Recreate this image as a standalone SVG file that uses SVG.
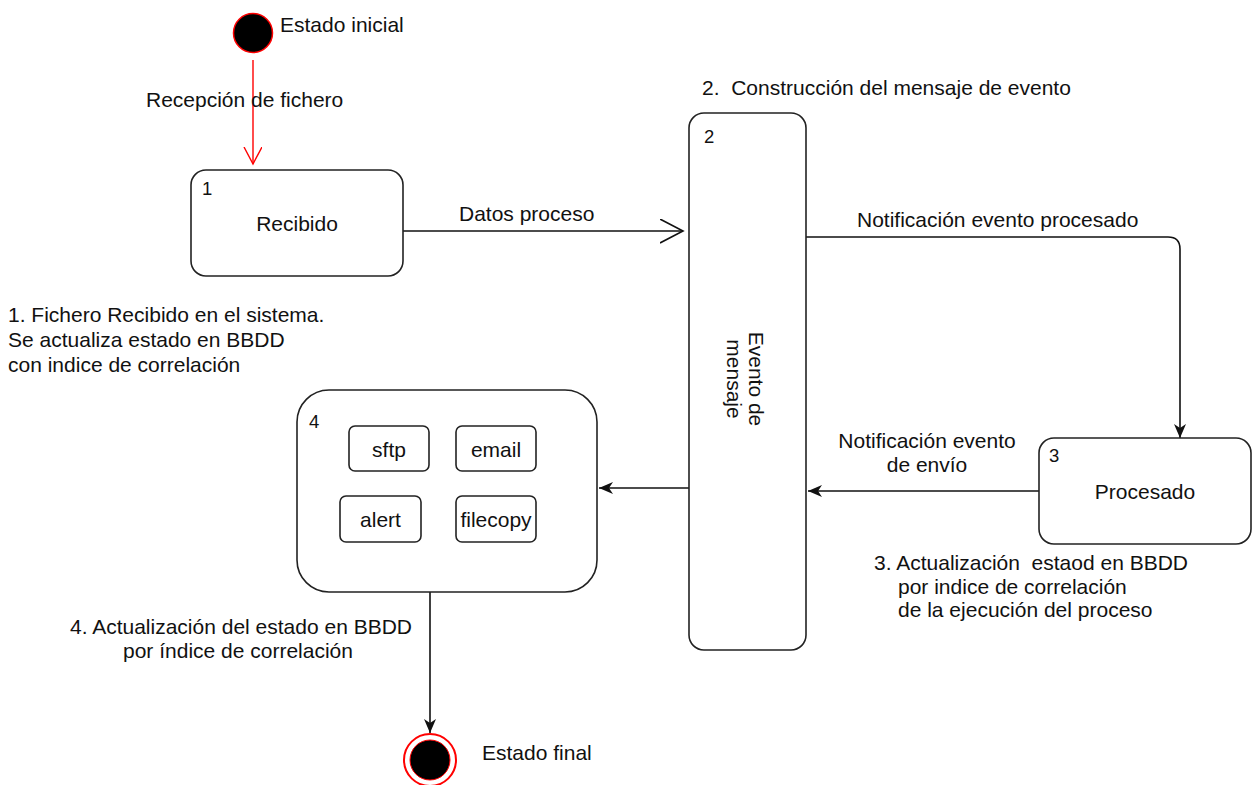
<svg xmlns="http://www.w3.org/2000/svg" width="1252" height="785" viewBox="0 0 1252 785">
  <style>
    text { font-family: "Liberation Sans", Arial, sans-serif; font-size: 21px; fill: #111; }
    .num { font-size: 18.5px; }
    .mid { text-anchor: middle; }
    .pre { white-space: pre; }
    .state { fill: #fff; stroke: #222; stroke-width: 1.6; }
    .item { fill: #fff; stroke: #222; stroke-width: 1.6; }
    .edge { fill: none; stroke: #111; stroke-width: 1.6; }
    .edge-red { fill: none; stroke: #f00; stroke-width: 1.4; }
  </style>
  <defs>
    <marker id="arrow-filled" markerUnits="userSpaceOnUse" markerWidth="16" markerHeight="14" refX="14" refY="6" orient="auto">
      <path d="M0,0 L14,6 L0,12 L4,6 Z" fill="#111"/>
    </marker>
    <marker id="arrow-open" markerUnits="userSpaceOnUse" markerWidth="26" markerHeight="28" refX="23" refY="12" orient="auto">
      <path d="M0,0 L23,12 L0,24" fill="none" stroke="#111" stroke-width="1.6"/>
    </marker>
    <marker id="arrow-open-red" markerUnits="userSpaceOnUse" markerWidth="20" markerHeight="22" refX="17" refY="9" orient="auto">
      <path d="M0,0 L17,9 L0,18" fill="none" stroke="#f00" stroke-width="1.4"/>
    </marker>
  </defs>

  <rect width="1252" height="785" fill="#fff"/>

  <!-- transitions -->
  <g id="connectors">
    <path class="edge-red" d="M253,60 V164" marker-end="url(#arrow-open-red)"/>
    <text x="146" y="107">Recepción de fichero</text>

    <path class="edge" d="M403,231 H683" marker-end="url(#arrow-open)"/>
    <text x="459" y="221">Datos proceso</text>

    <path class="edge" d="M806,237 H1168 Q1180,237 1180,249 V438" marker-end="url(#arrow-filled)"/>
    <text x="857" y="227">Notificación evento procesado</text>

    <path class="edge" d="M1039,491 H808" marker-end="url(#arrow-filled)"/>
    <text class="mid" x="927" y="448">Notificación evento</text>
    <text class="mid" x="927" y="472">de envío</text>

    <path class="edge" d="M693,488 H599" marker-end="url(#arrow-filled)"/>

    <path class="edge" d="M430,592 V733" marker-end="url(#arrow-filled)"/>
  </g>

  <!-- initial pseudo-state -->
  <g id="initial">
    <circle cx="253" cy="33" r="19.5" fill="#000" stroke="#f00" stroke-width="1.5"/>
    <text x="280" y="32">Estado inicial</text>
  </g>

  <!-- state 1 -->
  <g id="recibido">
    <rect class="state" x="191" y="170" width="212" height="106" rx="15"/>
    <text class="num" x="202" y="195">1</text>
    <text class="mid" x="297" y="231">Recibido</text>
  </g>
  <g id="note-1">
    <text x="8" y="322">1. Fichero Recibido en el sistema.</text>
    <text x="8" y="347">Se actualiza estado en BBDD</text>
    <text x="8" y="372">con indice de correlación</text>
  </g>

  <!-- state 2 -->
  <g id="evento-mensaje">
    <text class="pre" xml:space="preserve" x="702" y="95">2.  Construcción del mensaje de evento</text>
    <rect class="state" x="689" y="113" width="117" height="537" rx="15"/>
    <text class="num" x="704" y="143">2</text>
    <g transform="translate(749,379) rotate(90)">
      <text class="mid" x="0" y="0">Evento de</text>
      <text class="mid" x="0" y="22">mensaje</text>
    </g>
  </g>

  <!-- state 3 -->
  <g id="procesado">
    <rect class="state" x="1039" y="438" width="212" height="106" rx="15"/>
    <text class="num" x="1049" y="462">3</text>
    <text class="mid" x="1145" y="499">Procesado</text>
  </g>
  <g id="note-3">
    <text class="pre" xml:space="preserve" x="874" y="570">3. Actualización  estaod en BBDD</text>
    <text x="898" y="594">por indice de correlación</text>
    <text x="898" y="617">de la ejecución del proceso</text>
  </g>

  <!-- state 4 with delivery channels -->
  <g id="envio">
    <rect class="state" x="297" y="390" width="300" height="202" rx="32"/>
    <text class="num" x="309" y="428">4</text>
    <g id="sftp">
      <rect class="item" x="349" y="426" width="80" height="45" rx="6"/>
      <text class="mid" x="389" y="457">sftp</text>
    </g>
    <g id="email">
      <rect class="item" x="456" y="426" width="80" height="45" rx="6"/>
      <text class="mid" x="496" y="457">email</text>
    </g>
    <g id="alert">
      <rect class="item" x="340" y="496" width="81" height="46" rx="6"/>
      <text class="mid" x="380.5" y="527">alert</text>
    </g>
    <g id="filecopy">
      <rect class="item" x="456" y="496" width="80" height="46" rx="6"/>
      <text class="mid" x="496" y="527">filecopy</text>
    </g>
  </g>
  <g id="note-4">
    <text class="mid" x="241" y="634">4. Actualización del estado en BBDD</text>
    <text class="mid" x="238" y="658">por índice de correlación</text>
  </g>

  <!-- final state -->
  <g id="final">
    <circle cx="430" cy="760" r="26" fill="#fff" stroke="#f00" stroke-width="2"/>
    <circle cx="430" cy="760" r="20" fill="#000" stroke="#f00" stroke-width="1"/>
    <text x="482" y="760">Estado final</text>
  </g>
</svg>
